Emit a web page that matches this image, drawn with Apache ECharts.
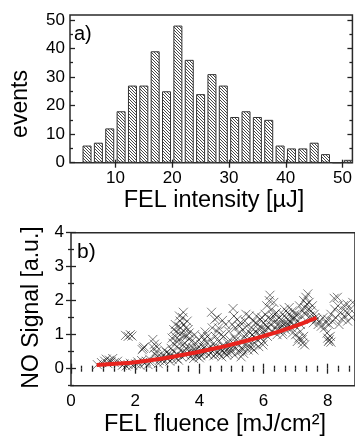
<!DOCTYPE html>
<html>
<head>
<meta charset="utf-8">
<script src="https://cdn.jsdelivr.net/npm/echarts@6/dist/echarts.min.js"></script>
<style>html,body{margin:0;padding:0;background:#fff;}#c{width:355px;height:441px;}</style>
</head>
<body>
<div id="c"></div>
<script>
// ---- Panel a) histogram of FEL intensity ----
const binCenters = [5,7,9,11,13,15,17,19,21,23,25,27,29,31,33,35,37,39,41,43,45,47,49,51];
const binCounts  = [6,7,12,18,27,27,39,25,48,36,24,31,27,16,18,16,15,6,5,5,7,3,0,1];
const histXTicks = [10,20,30,40,50];
const histYTicks = [0,10,20,30,40,50];
const histYMinor = [5,15,25,35,45];

// ---- Panel b) NO signal vs FEL fluence ----
const fluenceXTicks = [0,2,4,6,8];
const signalYTicks = [0,1,2,3,4];
const signalYMinor = [-0.5,0.5,1.5,2.5,3.5];

const noSignal = [
 [0.82,0.12],[0.95,0.18],[1.05,0.22],[1.1,0.28],[1.15,0.15],[1.2,0.25],[1.25,0.2],[1.3,0.3],[1.35,0.18],[1.45,0.22],
 [1.6,0.1],[1.65,0.14],[1.72,0.08],[1.78,0.12],[1.85,0.16],[1.92,0.1],[1.7,0.98],[1.78,0.95],[1.85,1.0],[1.9,0.96],
 [2.02,0.14],[2.08,0.2],[2.15,0.1],[2.2,0.24],[2.25,0.6],[2.28,0.64],[2.22,0.56],[2.3,0.16],[2.35,0.22],[2.4,0.12],[2.45,0.28],[2.48,0.18],
 [2.55,0.86],[2.6,0.72],[2.58,0.6],[2.65,0.5],[2.62,0.42],[2.7,0.36],[2.75,0.24],[2.8,0.3],[2.85,0.4],[2.9,0.2],[2.95,0.34],[2.98,0.48],[2.72,0.15],[2.88,0.28],[2.68,0.64],[2.92,0.55],
 [3.02,0.3],[3.05,0.45],[3.08,0.22],[3.1,0.38],[3.12,0.6],[3.15,0.28],[3.18,0.75],[3.2,0.5],[3.22,0.35],[3.25,0.95],[3.28,1.1],[3.3,0.65],[3.32,0.42],[3.35,1.25],[3.38,0.85],[3.4,1.4],[3.42,0.55],[3.45,1.05],[3.48,1.5],[3.5,1.66],[3.52,1.3],[3.55,0.75],[3.58,1.2],[3.6,0.95],[3.62,0.45],[3.65,1.15],[3.68,0.62],[3.7,0.9],[3.3,0.3],[3.45,0.35],[3.55,0.4],[3.25,1.3],[3.4,1.0],[3.35,0.25],[3.5,0.5],[3.62,1.4],
 [3.15,0.9],[3.2,1.15],[3.3,0.8],[3.38,1.55],[3.42,1.2],[3.48,0.7],[3.52,0.95],[3.58,0.6],[3.68,1.05],[3.75,0.8],
 [3.72,0.35],[3.75,0.5],[3.78,0.42],[3.8,0.62],[3.82,0.3],[3.85,0.55],[3.88,0.75],[3.9,0.45],[3.92,0.38],[3.95,0.6],[3.98,0.85],[4.0,0.5],[4.02,0.42],[4.05,0.7],[4.08,0.55],[4.1,0.95],[4.12,0.45],[4.15,0.62],[4.18,1.08],[4.2,0.5],[4.22,0.78],[4.25,0.58],[4.28,0.4],[3.85,1.0],[4.0,0.32],
 [4.05,0.38],[4.15,0.85],[4.25,0.95],[4.35,0.45],[4.5,0.42],[4.6,1.2],[4.75,0.95],[4.85,0.4],[4.95,0.85],[5.0,0.5],
 [4.32,0.6],[4.35,0.85],[4.38,1.66],[4.4,1.2],[4.42,0.72],[4.45,0.55],[4.48,1.45],[4.5,0.95],[4.52,0.65],[4.55,1.1],[4.58,0.5],[4.6,0.8],[4.62,0.42],[4.65,0.6],[4.68,1.0],[4.7,0.52],[4.72,1.42],[4.75,0.7],[4.78,0.48],[4.8,0.62],[4.82,1.3],[4.85,0.55],[4.88,0.75],[4.9,0.45],[4.92,1.1],[4.95,0.65],[4.98,0.58],[4.45,0.38],[4.7,0.35],[4.55,1.5],
 [5.02,1.3],[5.05,1.77],[5.08,1.55],[5.1,0.9],[5.12,1.2],[5.15,0.6],[5.18,1.45],[5.2,0.72],[5.22,1.05],[5.25,0.5],[5.28,1.35],[5.3,0.8],[5.32,0.62],[5.35,1.15],[5.38,0.45],[5.4,0.95],[5.42,1.4],[5.45,0.7],[5.48,1.25],[5.5,0.85],[5.52,0.55],[5.55,1.55],[5.58,1.05],[5.6,0.75],[5.1,0.4],[5.3,0.35],[5.05,0.65],[5.45,1.6],
 [5.15,0.85],[5.25,1.25],[5.35,0.55],[5.45,1.0],[5.55,0.65],[5.65,1.0],[5.75,1.35],[5.85,1.15],[5.95,1.5],[6.05,1.15],
 [5.62,1.2],[5.65,0.6],[5.68,1.4],[5.7,0.95],[5.72,0.75],[5.75,1.1],[5.78,1.55],[5.8,0.85],[5.82,1.3],[5.85,0.65],[5.88,1.0],[5.9,1.45],[5.92,0.9],[5.95,1.2],[5.98,0.7],[6.0,1.35],[6.02,1.05],[6.05,1.6],[6.08,1.25],[6.1,1.85],[6.12,0.95],[6.15,1.5],[6.18,2.0],[6.2,2.16],[6.22,1.3],[6.25,1.75],[6.28,1.1],[6.3,1.55],[6.32,1.95],[6.35,1.2],[6.38,1.4],[6.4,1.65],[6.42,1.0],[6.45,1.3],[6.48,1.5],[5.7,0.55],[6.0,0.8],
 [6.15,1.2],[6.25,1.45],[6.35,1.6],[6.45,1.15],[6.55,1.3],[6.7,1.25],[6.85,1.35],[6.95,1.5],[7.05,1.6],[7.15,1.3],
 [6.52,1.2],[6.55,1.45],[6.58,1.1],[6.6,1.6],[6.62,1.3],[6.65,1.75],[6.68,1.15],[6.7,1.5],[6.72,1.35],[6.75,1.65],[6.78,1.25],[6.8,1.8],[6.82,1.4],[6.85,1.55],[6.88,1.2],[6.9,1.7],[6.92,1.45],[6.95,1.3],[6.98,1.6],[7.0,1.0],[7.05,0.8],[7.08,1.4],[7.1,0.9],[7.12,1.85],[7.15,1.1],[7.18,1.55],[6.6,1.0],[6.9,1.05],
 [7.2,0.85],[7.22,0.75],[7.25,0.95],[7.28,0.7],[7.22,1.7],[7.25,2.0],[7.28,1.8],[7.3,1.6],[7.32,2.1],[7.35,1.9],[7.38,2.2],[7.4,1.75],[7.42,1.95],[7.45,1.55],[7.48,1.7],[7.5,1.45],[7.52,1.85],[7.55,1.35],[7.58,1.6],[7.6,1.5],[7.65,1.45],[7.7,1.3],
 [7.75,1.4],[7.8,1.25],[7.85,1.5],[7.9,1.2],[7.95,1.35],[7.98,1.05],[8.0,0.9],[8.02,0.8],[8.05,0.85],[8.08,0.95],[8.1,0.78],[8.0,1.45],[8.05,1.3],[8.1,1.6],[8.15,1.4],[8.2,2.07],[8.22,1.75],[8.25,1.5],[8.3,2.1],[8.32,1.85],[8.35,1.3],[8.4,1.65],[8.45,1.45],[8.5,1.86],[8.52,1.55],[8.55,1.7],[8.6,1.9],[8.62,1.4],[8.65,1.6],[8.7,1.75],[8.75,1.5],[8.78,1.95]
];

const fitX = [0.8,1.5,2.0,2.5,3.0,3.5,4.0,4.5,5.0,5.5,6.0,6.5,7.0,7.5,7.65];
const fitY = [0.11,0.15,0.19,0.25,0.32,0.41,0.50,0.60,0.71,0.83,0.96,1.10,1.26,1.44,1.50];

// ---- rendering ----
const FONT = 'Liberation Sans, Arial, Helvetica, sans-serif';
const fluenceXMinor = [];
for (let k = 1; k / 3 < 8.85; k++) { if (k % 6 !== 0) fluenceXMinor.push(k / 3); }

const pc = document.createElement('canvas');
pc.width = 3; pc.height = 3;
const g = pc.getContext('2d');
g.fillStyle = '#fff'; g.fillRect(0, 0, 3, 3);
g.strokeStyle = '#333'; g.lineWidth = 0.9;
g.beginPath();
g.moveTo(-1, -1); g.lineTo(4, 4);
g.moveTo(-1, 2); g.lineTo(1, 4);
g.moveTo(2, -1); g.lineTo(4, 1);
g.stroke();

const TICK = '#222';
function tickAxis(base, vals, len, labels, extra) {
  return Object.assign({
    type: 'value',
    axisLine: { show: false },
    splitLine: { show: false },
    axisTick: { show: true, inside: true, length: len, customValues: vals, lineStyle: { color: TICK, width: 1.3 } },
    axisLabel: labels ? Object.assign({ show: true, customValues: labels, color: '#000', fontSize: 17, fontFamily: FONT }, extra || {}) : { show: false }
  }, base);
}

const X0 = { gridIndex: 0, min: 2, max: 51.74 };
const Y0 = { gridIndex: 0, min: 0, max: 51.7 };
const X1 = { gridIndex: 1, min: 0, max: 8.85 };
const Y1 = { gridIndex: 1, min: -0.5, max: 4 };

const option = {
  animation: false,
  backgroundColor: '#fff',
  grid: [
    { left: 70, top: 15, width: 286, height: 147.7, show: true, borderColor: '#2a2a2a', borderWidth: 1.5, backgroundColor: 'transparent' },
    { left: 71, top: 232.7, width: 285, height: 153, show: true, borderColor: '#2a2a2a', borderWidth: 1.5, backgroundColor: 'transparent' }
  ],
  xAxis: [
    tickAxis(Object.assign({ position: 'bottom' }, X0), histXTicks, 3, histXTicks, { margin: 7 }),
    tickAxis(Object.assign({ position: 'top' }, X0), histXTicks, 5, null),
    tickAxis(Object.assign({ position: 'bottom' }, X1), fluenceXTicks, 5, fluenceXTicks, { margin: 7 }),
    tickAxis(Object.assign({ position: 'bottom' }, X1), fluenceXMinor, 3, null),
    tickAxis(Object.assign({ position: 'top' }, X1), fluenceXTicks, 5, null),
    tickAxis(Object.assign({ position: 'top' }, X1), fluenceXMinor, 3, null)
  ],
  yAxis: [
    tickAxis(Object.assign({ position: 'left' }, Y0), histYTicks, 5, histYTicks, { margin: 5 }),
    tickAxis(Object.assign({ position: 'left' }, Y0), histYMinor, 3, null),
    tickAxis(Object.assign({ position: 'right' }, Y0), histYTicks, 5, null),
    tickAxis(Object.assign({ position: 'right' }, Y0), histYMinor, 3, null),
    tickAxis(Object.assign({ position: 'left' }, Y1), signalYTicks, 5, signalYTicks, { margin: 7 }),
    tickAxis(Object.assign({ position: 'left' }, Y1), signalYMinor, 3, null),
    tickAxis(Object.assign({ position: 'right' }, Y1), signalYTicks, 5, null),
    tickAxis(Object.assign({ position: 'right' }, Y1), signalYMinor, 3, null)
  ],
  series: [
    {
      type: 'bar', xAxisIndex: 0, yAxisIndex: 0,
      data: binCenters.map((c, i) => [c, binCounts[i]]),
      barWidth: 9,
      itemStyle: { color: { image: pc, repeat: 'repeat' }, borderColor: '#333', borderWidth: 1 },
      silent: true
    },
    {
      type: 'scatter', xAxisIndex: 2, yAxisIndex: 4,
      data: noSignal,
      symbol: 'path://M0,0L10,10M10,0L0,10',
      symbolSize: 9,
      itemStyle: { color: 'rgba(0,0,0,0)', borderColor: 'rgba(0,0,0,0.72)', borderWidth: 0.9 },
      silent: true
    },
    {
      type: 'line', xAxisIndex: 2, yAxisIndex: 4,
      data: fitX.map((x, i) => [x, fitY[i]]),
      smooth: true, showSymbol: false, symbol: 'none',
      lineStyle: { color: '#e8231d', width: 4 },
      silent: true, z: 5
    }
  ],
  graphic: [
    { type: 'text', x: 74, y: 34, style: { text: 'a)', fontSize: 20, fontFamily: FONT, fill: '#000', align: 'left', verticalAlign: 'middle' } },
    { type: 'text', x: 77, y: 252.5, style: { text: 'b)', fontSize: 21, fontFamily: FONT, fill: '#000', align: 'left', verticalAlign: 'middle' } },
    { type: 'text', x: 20.5, y: 104, rotation: Math.PI / 2, style: { text: 'events', fontSize: 23, fontFamily: FONT, fill: '#000', align: 'center', verticalAlign: 'middle' } },
    { type: 'text', x: 214, y: 201, style: { text: 'FEL intensity [µJ]', fontSize: 23.5, fontFamily: FONT, fill: '#000', align: 'center', verticalAlign: 'middle' } },
    { type: 'text', x: 31.6, y: 307.5, rotation: Math.PI / 2, style: { text: 'NO Signal [a.u.]', fontSize: 23, fontFamily: FONT, fill: '#000', align: 'center', verticalAlign: 'middle' } },
    { type: 'text', x: 215, y: 425, style: { text: 'FEL fluence [mJ/cm²]', fontSize: 23.5, fontFamily: FONT, fill: '#000', align: 'center', verticalAlign: 'middle' } }
  ]
};

const chart = echarts.init(document.getElementById('c'), null, { renderer: 'canvas' });
chart.setOption(option);
</script>
</body>
</html>
